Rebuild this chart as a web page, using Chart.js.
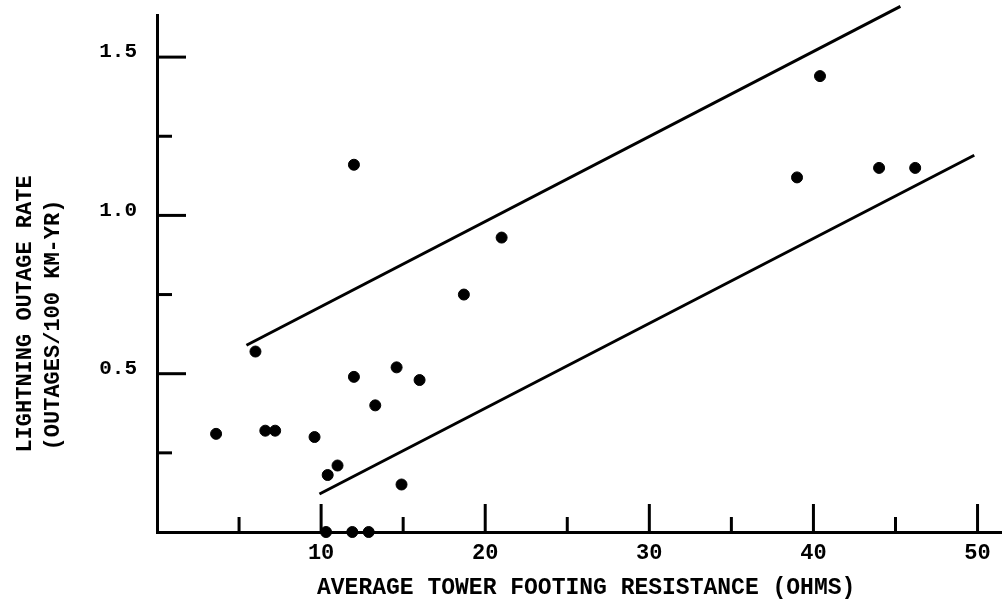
<!DOCTYPE html>
<html>
<head>
<meta charset="utf-8">
<script src="https://cdn.jsdelivr.net/npm/chart.js@4/dist/chart.umd.min.js"></script>
<style>
  html, body { margin: 0; padding: 0; background: #fff; }
  #wrap { width: 1008px; height: 608px; }
</style>
</head>
<body>
<div id="wrap"><canvas id="chart"></canvas></div>
<script>
// observed tower lines: footing resistance (ohms) vs outage rate
const resistance = [3.6, 6.0, 6.6, 7.2, 9.6, 10.4, 11.0, 12.0, 12.0, 13.3, 14.6, 16.0, 14.9, 18.7, 21.0, 39.0, 40.4, 44.0, 46.2, 10.3, 11.9, 12.9];
const outageRate = [0.31, 0.57, 0.32, 0.32, 0.30, 0.18, 0.21, 1.16, 0.49, 0.40, 0.52, 0.48, 0.15, 0.75, 0.93, 1.12, 1.44, 1.15, 1.15, 0, 0, 0];

// band limits drawn by hand on the original
const upperBandX = [5.45, 45.3];
const upperBandY = [0.59, 1.66];
const lowerBandX = [9.9, 49.8];
const lowerBandY = [0.12, 1.19];

const xTitle = 'AVERAGE TOWER FOOTING RESISTANCE (OHMS)';
const yTitle = ['LIGHTNING OUTAGE RATE', '(OUTAGES/100 KM-YR)'];

const toPoints = (xs, ys) => xs.map((x, i) => ({ x: x, y: ys[i] }));

const FONT = "'Liberation Mono', 'DejaVu Sans Mono', monospace";

// tick marks point into the plot, long ones at the labelled values
const inwardTicks = {
    id: 'inwardTicks',
    afterDatasetsDraw(chart) {
        const { ctx, chartArea } = chart;
        const xs = chart.scales.x;
        const ys = chart.scales.y;
        ctx.save();
        ctx.strokeStyle = '#000';
        ctx.lineWidth = 3;
        ctx.lineCap = 'butt';
        xs.ticks.forEach(t => {
            if (t.value === 0) return;
            const px = xs.getPixelForValue(t.value);
            const len = t.value % 10 === 0 ? 28 : 15;
            ctx.beginPath();
            ctx.moveTo(px, chartArea.bottom);
            ctx.lineTo(px, chartArea.bottom - len);
            ctx.stroke();
        });
        ys.ticks.forEach(t => {
            if (t.value === 0) return;
            const py = ys.getPixelForValue(t.value);
            const len = Math.abs(t.value * 2 - Math.round(t.value * 2)) < 1e-9 ? 29 : 15;
            ctx.beginPath();
            ctx.moveTo(chartArea.left, py);
            ctx.lineTo(chartArea.left + len, py);
            ctx.stroke();
        });
        ctx.restore();
    }
};

// two-line rotated y title, placed like the typed original
const yAxisTitle = {
    id: 'yAxisTitle',
    afterDraw(chart) {
        const { ctx } = chart;
        const spots = [[25, 314], [53, 325]];
        ctx.save();
        ctx.fillStyle = '#000';
        ctx.font = 'bold 22px ' + FONT;
        ctx.textAlign = 'center';
        ctx.textBaseline = 'middle';
        yTitle.forEach((line, i) => {
            ctx.save();
            ctx.translate(spots[i][0], spots[i][1]);
            ctx.rotate(-Math.PI / 2);
            ctx.fillText(line, 0, 0);
            ctx.restore();
        });
        ctx.restore();
    }
};

new Chart(document.getElementById('chart'), {
    type: 'scatter',
    data: {
        datasets: [
            {
                label: 'Outage rate',
                data: toPoints(resistance, outageRate),
                backgroundColor: '#000',
                borderColor: '#000',
                pointRadius: 5.5,
                pointHoverRadius: 5.5,
                clip: false
            },
            {
                type: 'line',
                label: 'Upper limit',
                data: toPoints(upperBandX, upperBandY),
                borderColor: '#000',
                borderWidth: 3,
                pointRadius: 0,
                fill: false,
                clip: false
            },
            {
                type: 'line',
                label: 'Lower limit',
                data: toPoints(lowerBandX, lowerBandY),
                borderColor: '#000',
                borderWidth: 3,
                pointRadius: 0,
                fill: false,
                clip: false
            }
        ]
    },
    options: {
        responsive: true,
        maintainAspectRatio: false,
        animation: false,
        layout: { padding: { top: 15, right: 3, left: 0, bottom: 0 } },
        plugins: {
            legend: { display: false },
            tooltip: { enabled: false }
        },
        scales: {
            x: {
                type: 'linear',
                min: 0,
                max: 51.46,
                afterFit: (scale) => {
                    scale.height = 76;
                    scale.paddingLeft = 0;
                    scale.paddingRight = 0;
                },
                grid: { display: false, drawTicks: false },
                border: { display: true, color: '#000', width: 3 },
                ticks: {
                    stepSize: 5,
                    includeBounds: false,
                    autoSkip: false,
                    maxRotation: 0,
                    padding: 8,
                    color: '#000',
                    font: { family: FONT, size: 22, weight: 'bold' },
                    callback: (v) => (v !== 0 && v % 10 === 0 ? String(v) : '')
                },
                title: {
                    display: true,
                    text: ' ' + xTitle,
                    color: '#000',
                    font: { family: FONT, size: 23, weight: 'bold' },
                    padding: { top: 0, bottom: 6 }
                }
            },
            y: {
                type: 'linear',
                min: 0,
                max: 1.633,
                afterFit: (scale) => {
                    scale.width = 157;
                    scale.paddingTop = 0;
                    scale.paddingBottom = 0;
                },
                grid: { display: false, drawTicks: false },
                border: { display: true, color: '#000', width: 3 },
                ticks: {
                    stepSize: 0.25,
                    includeBounds: false,
                    autoSkip: false,
                    padding: 20,
                    labelOffset: -5,
                    color: '#000',
                    font: { family: FONT, size: 21, weight: 'bold' },
                    callback: (v) => (v > 0 && Math.abs(v * 2 - Math.round(v * 2)) < 1e-9 ? v.toFixed(1) : '')
                },
                title: { display: false }
            }
        }
    },
    plugins: [inwardTicks, yAxisTitle]
});
</script>
</body>
</html>
